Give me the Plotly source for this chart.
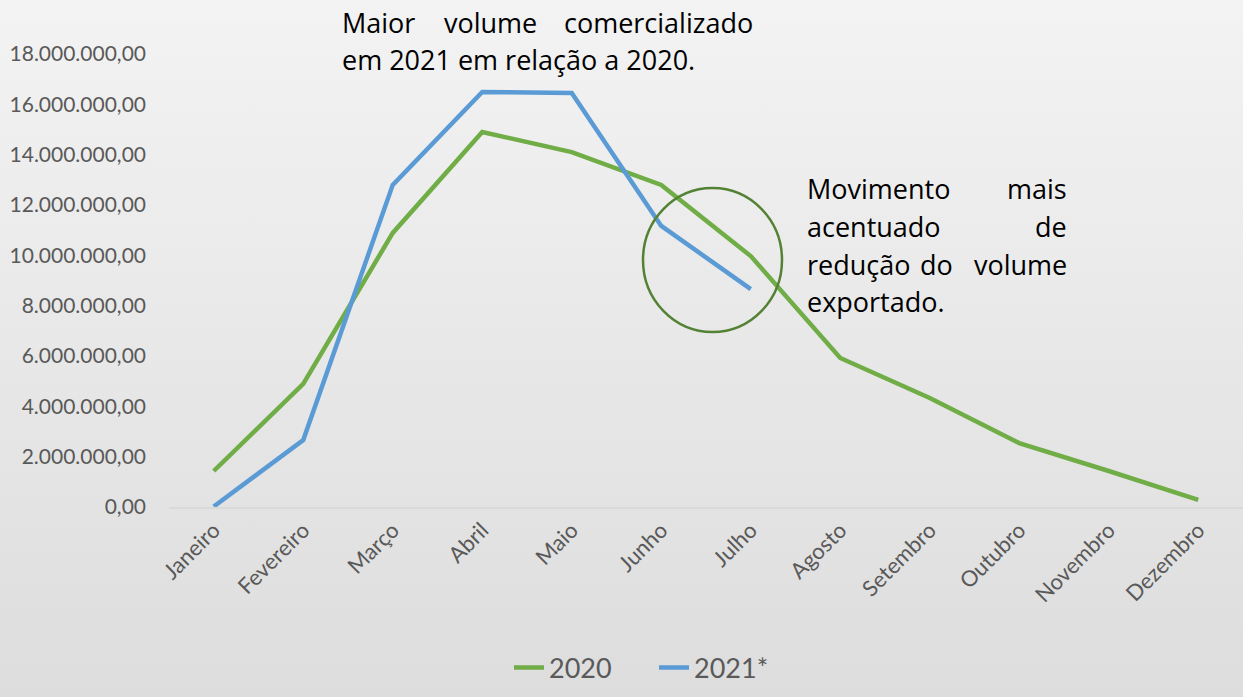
import plotly.graph_objects as go

months = ["Janeiro", "Fevereiro", "Março", "Abril", "Maio", "Junho", "Julho",
          "Agosto", "Setembro", "Outubro", "Novembro", "Dezembro"]
vol_2020 = [1430000, 4890000, 10890000, 14900000, 14100000, 12800000, 9970000,
            5920000, 4330000, 2540000, 1430000, 280000]
vol_2021 = [20000, 2660000, 12800000, 16490000, 16450000, 11170000, 8660000]
months_2021 = months[:len(vol_2021)]
y_ticks = [0, 2000000, 4000000, 6000000, 8000000, 10000000, 12000000,
           14000000, 16000000, 18000000]


def br(v):
    s = f"{v:,.2f}"
    return s.replace(",", "X").replace(".", ",").replace("X", ".")


y_tick_text = [br(v) for v in y_ticks]

W, H = 1243, 697
L, R, T, B = 169, 1243, 54, 507
TICK_FONT = "Lato"
NOTE_FONT = "Open Sans"


def px_x(x):
    return (x - L) / (R - L)


def px_y(y):
    return (B - y) / (B - T)


fig = go.Figure()
fig.add_trace(go.Scatter(x=months, y=vol_2020, mode="lines", name="2020",
                         line=dict(color="#70ad47", width=4.5)))
fig.add_trace(go.Scatter(x=months_2021, y=vol_2021, mode="lines", name="2021*",
                         line=dict(color="#5b9bd5", width=4.5)))

# gradient background
svg = ("data:image/svg+xml;utf8,<svg xmlns='http://www.w3.org/2000/svg' width='10' height='10' "
       "preserveAspectRatio='none'><defs><linearGradient id='g' x1='0' y1='0' x2='0' y2='1'>"
       "<stop offset='0' stop-color='%23f3f3f3'/><stop offset='1' stop-color='%23dddddd'/>"
       "</linearGradient></defs><rect width='10' height='10' fill='url(%23g)'/></svg>")
fig.add_layout_image(dict(source=svg, xref="paper", yref="paper",
                          x=px_x(0), y=px_y(0), sizex=px_x(W) - px_x(0),
                          sizey=px_y(0) - px_y(H), sizing="stretch",
                          xanchor="left", yanchor="top", layer="below"))

ann = []
txt_font = dict(family=NOTE_FONT, size=27, color="#000000")


def word(t, x, y, anchor):
    ann.append(dict(text=t, x=px_x(x), y=px_y(y), xref="paper", yref="paper",
                    xanchor=anchor, yanchor="middle", showarrow=False, font=txt_font))


# top note (justified)
word("Maior", 340, 22, "left")
word("volume", 490, 22, "center")
word("comercializado", 755, 22, "right")
word("em 2021 em relação a 2020.", 340, 60, "left")

# right note (justified)
word("Movimento", 805, 189, "left")
word("mais", 1069, 189, "right")
word("acentuado", 805, 226, "left")
word("de", 1069, 226, "right")
word("redução", 805, 264, "left")
word("do", 936, 264, "center")
word("volume", 1069, 264, "right")
word("exportado.", 805, 301, "left")

fig.add_shape(type="circle", xref="paper", yref="paper",
              x0=px_x(643), x1=px_x(782), y0=px_y(332), y1=px_y(188),
              line=dict(color="#548235", width=2.5))

fig.update_layout(
    width=W, height=H,
    margin=dict(l=L, r=W - R, t=T, b=H - B),
    paper_bgcolor="#e8e8e8", plot_bgcolor="rgba(0,0,0,0)",
    font=dict(family=TICK_FONT, color="#595959"),
    annotations=ann,
    showlegend=True,
    legend=dict(orientation="h", x=px_x(654), y=px_y(668), xanchor="center",
                yanchor="middle", font=dict(size=27, color="#595959"),
                bgcolor="rgba(0,0,0,0)", entrywidth=100, entrywidthmode="pixels"),
    xaxis=dict(type="category", categoryorder="array", categoryarray=months,
               tickangle=-45, tickfont=dict(size=22, color="#595959"),
               showgrid=False, showline=True, linecolor="#d9d9d9", linewidth=1.5,
               ticks="", range=[-0.5, 11.5]),
    yaxis=dict(range=[0, 18000000], tickvals=y_ticks, ticktext=y_tick_text,
               tickfont=dict(size=21, color="#595959"), showgrid=False,
               zeroline=False, showline=False, ticks="", ticklabelstandoff=22),
)

fig.write_html("out.html", config={"displayModeBar": False},
               post_script="document.body.style.margin='0';document.body.style.background='#e8e8e8';")
